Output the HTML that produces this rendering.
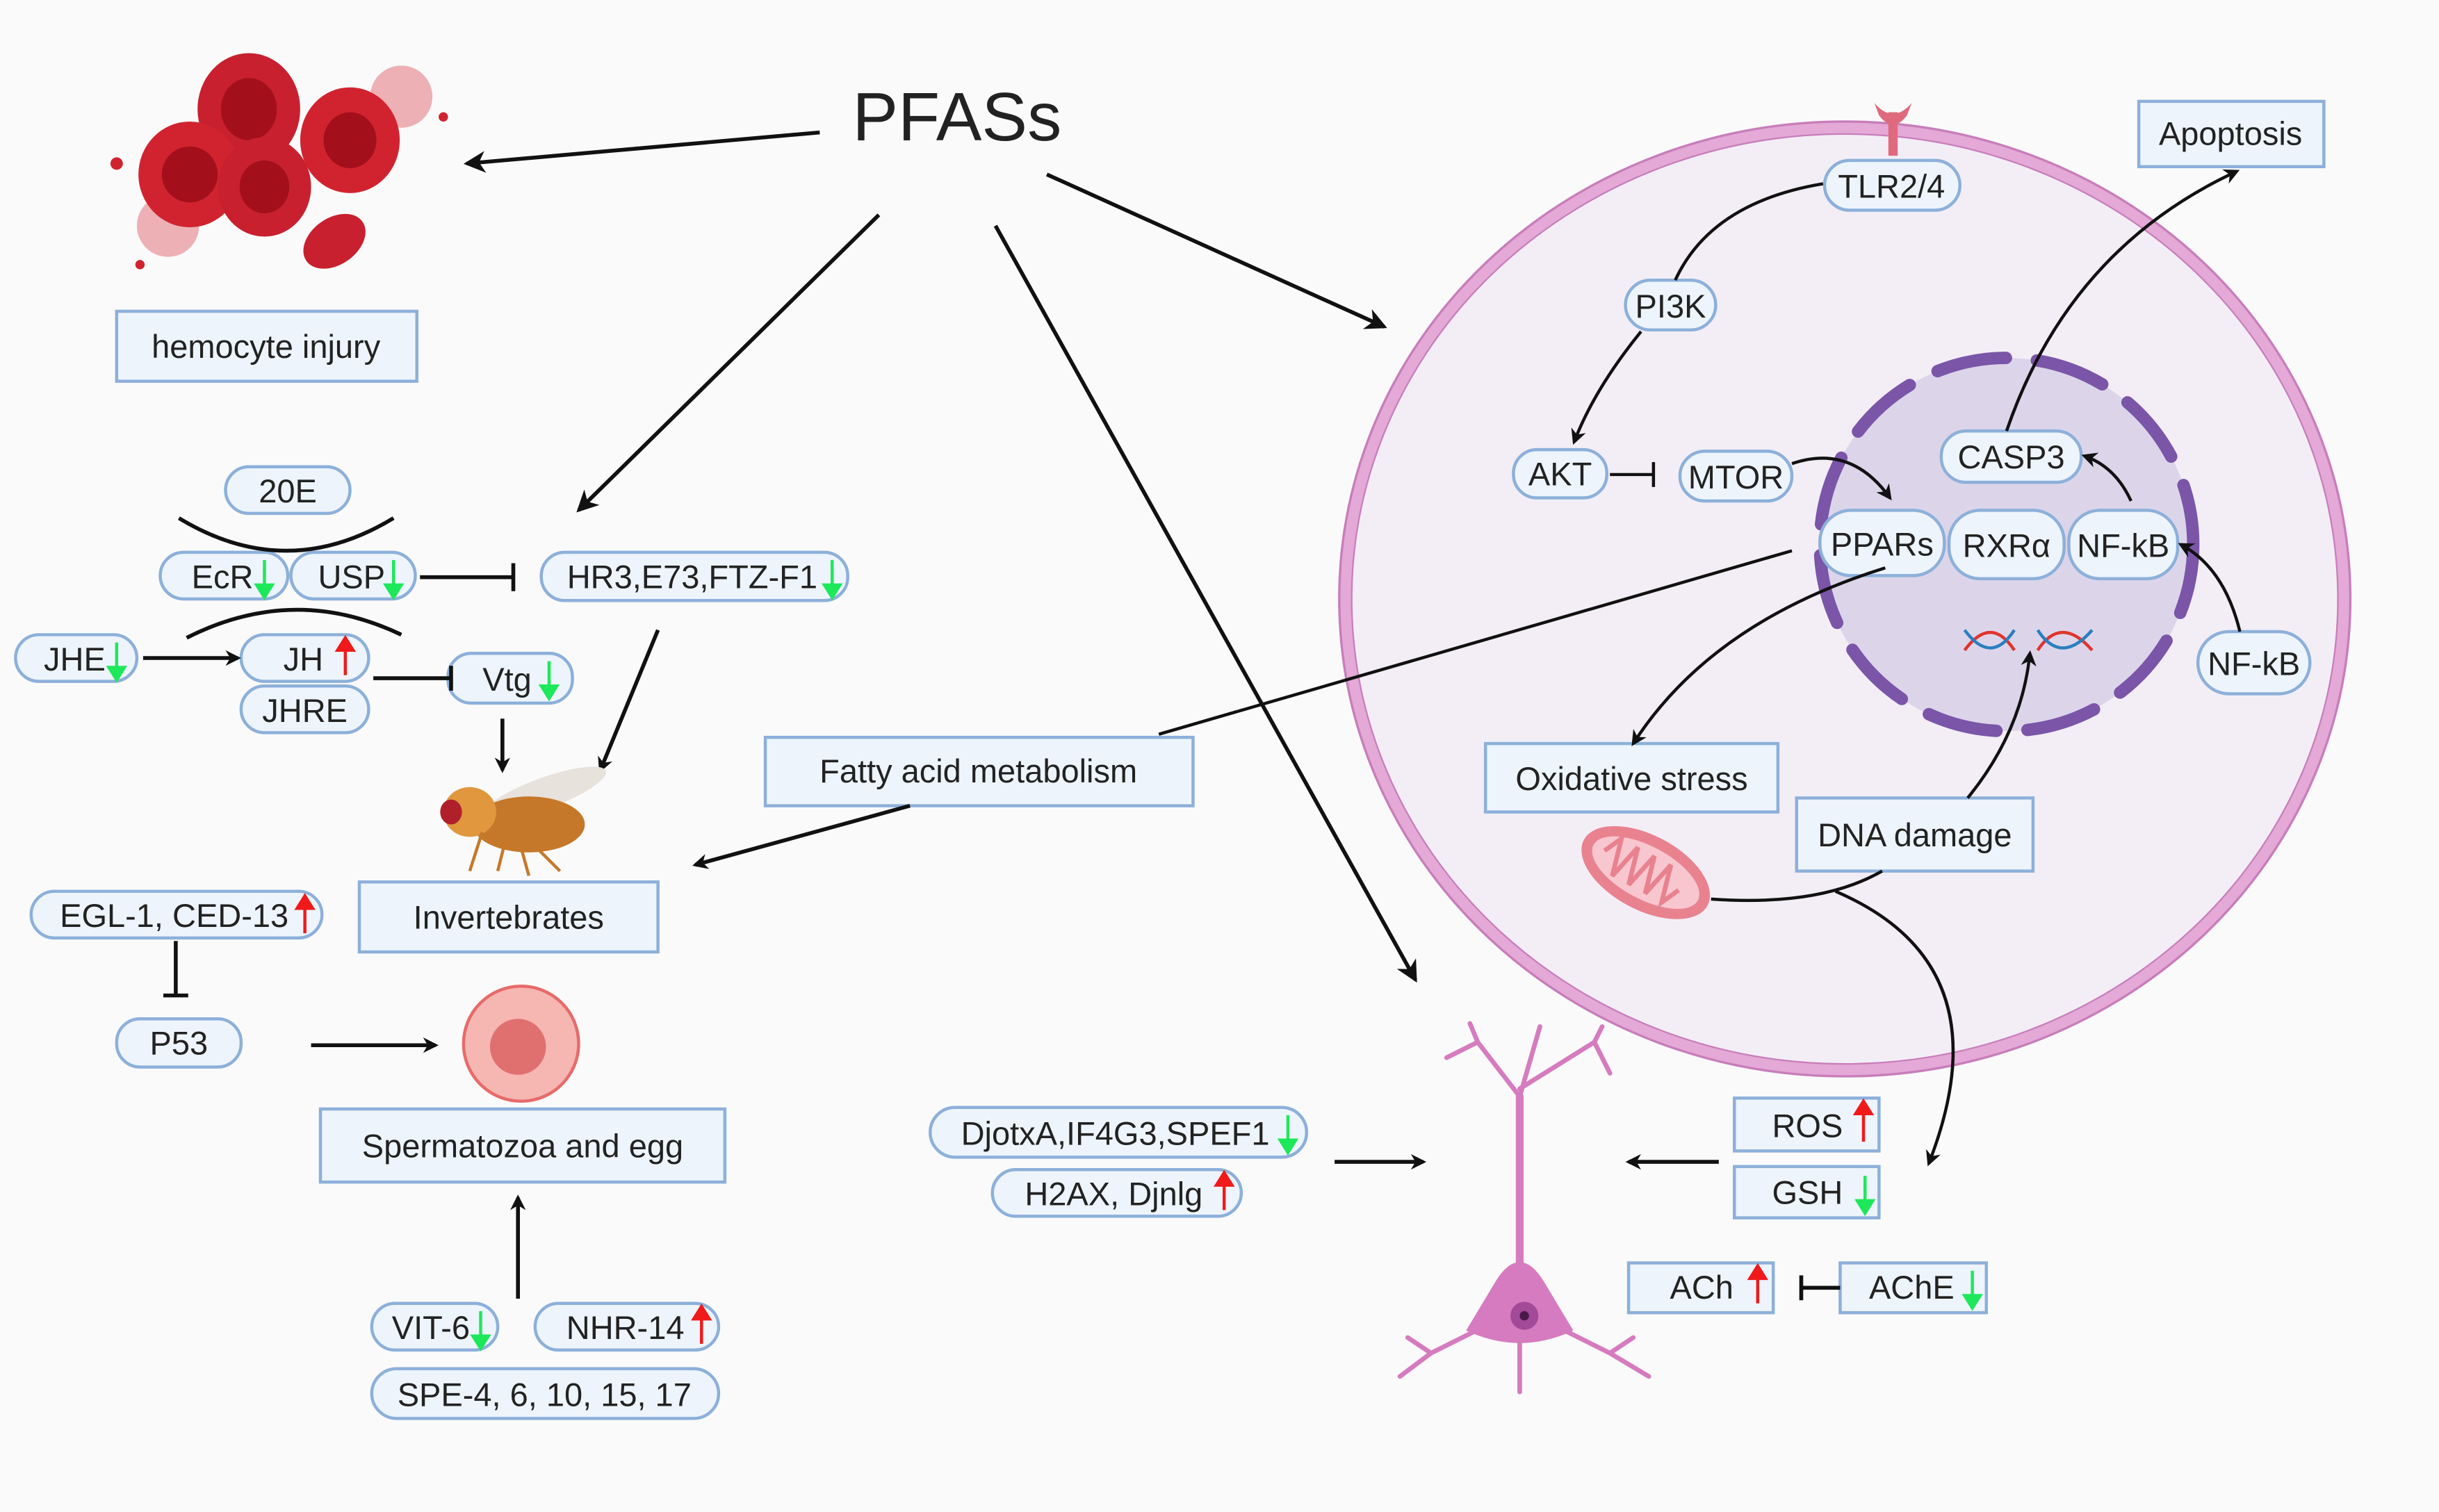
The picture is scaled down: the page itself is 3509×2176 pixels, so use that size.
<!DOCTYPE html>
<html><head><meta charset="utf-8">
<style>
html,body{margin:0;padding:0;background:#fafafa;}
svg{display:block;}
text{font-family:"Liberation Sans",sans-serif;fill:#222;}
</style></head>
<body>
<svg width="3509" height="2176" viewBox="0 0 1568 972" xmlns="http://www.w3.org/2000/svg">
<defs>
<marker id="ah" markerWidth="10" markerHeight="10" refX="8" refY="5" orient="auto" markerUnits="userSpaceOnUse">
<path d="M0,0 L10,5 L0,10 L3,5 z" fill="#111"/>
</marker>
<marker id="ah2" markerWidth="14" markerHeight="14" refX="12" refY="7" orient="auto" markerUnits="userSpaceOnUse">
<path d="M0,0 L14,7 L0,14 L4,7 z" fill="#111"/>
</marker>
</defs>
<rect width="1568" height="972" fill="#fafafa"/>

<!-- Cell -->
<ellipse cx="1186" cy="385" rx="321" ry="303" fill="#f3eef6" stroke="#e4a9d6" stroke-width="8"/>
<ellipse cx="1186" cy="385" rx="325" ry="307" fill="none" stroke="#c87dbb" stroke-width="1.5"/>
<ellipse cx="1186" cy="385" rx="317" ry="299" fill="none" stroke="#c87dbb" stroke-width="1"/>
<!-- nucleus -->
<circle cx="1290" cy="350" r="120" fill="#dcd5ea"/>
<circle cx="1290" cy="350" r="120" fill="none" stroke="#7a55a8" stroke-width="8" stroke-dasharray="45 20" stroke-linecap="round"/>

<!-- Blood cells -->
<g>
<circle cx="108" cy="145" r="20" fill="#e57e86" opacity="0.6"/>
<circle cx="258" cy="62" r="20" fill="#e57e86" opacity="0.6"/>
<ellipse cx="160" cy="70" rx="33" ry="36" fill="#c8202e"/><ellipse cx="160" cy="70" rx="18" ry="20" fill="#a3101c"/>
<ellipse cx="122" cy="112" rx="33" ry="34" fill="#d1232f"/><ellipse cx="122" cy="112" rx="18" ry="18" fill="#a3101c"/>
<ellipse cx="170" cy="120" rx="30" ry="32" fill="#c8202e"/><ellipse cx="170" cy="120" rx="16" ry="17" fill="#a3101c"/>
<ellipse cx="225" cy="90" rx="32" ry="34" fill="#d1232f"/><ellipse cx="225" cy="90" rx="17" ry="18" fill="#a3101c"/>
<ellipse cx="215" cy="155" rx="22" ry="15" transform="rotate(-35 215 155)" fill="#c8202e"/>
<circle cx="75" cy="105" r="4" fill="#d1232f"/><circle cx="90" cy="170" r="3" fill="#d1232f"/><circle cx="285" cy="75" r="3" fill="#d1232f"/>
</g>

<!-- PFASs -->
<text x="548" y="90" font-size="44">PFASs</text>
<line x1="527" y1="85" x2="300" y2="105" stroke="#111" stroke-width="2.5" marker-end="url(#ah2)"/>
<line x1="565" y1="138" x2="372" y2="328" stroke="#111" stroke-width="2.5" marker-end="url(#ah2)"/>
<line x1="640" y1="145" x2="910" y2="630" stroke="#111" stroke-width="2.5" marker-end="url(#ah2)"/>
<line x1="673" y1="112" x2="890" y2="210" stroke="#111" stroke-width="2.5" marker-end="url(#ah2)"/>

<g stroke="#8cb0da" stroke-width="2" fill="#edf4fb">
<!-- rect boxes -->
<rect x="75" y="200" width="193" height="45"/>
<rect x="231" y="567" width="192" height="45"/>
<rect x="492" y="474" width="275" height="44"/>
<rect x="206" y="713" width="260" height="47"/>
<rect x="1375" y="65" width="119" height="42"/>
<rect x="955" y="478" width="188" height="44"/>
<rect x="1155" y="513" width="152" height="47"/>
<rect x="1115" y="706" width="93" height="34"/>
<rect x="1115" y="750" width="93" height="33"/>
<rect x="1047" y="812" width="93" height="32"/>
<rect x="1183" y="812" width="94" height="32"/>
<!-- pills -->
<rect x="145" y="300" width="80" height="30" rx="15"/>
<rect x="103" y="355" width="82" height="30" rx="15"/>
<rect x="187" y="355" width="80" height="30" rx="15"/>
<rect x="348" y="355" width="197" height="31" rx="15"/>
<rect x="10" y="408" width="78" height="30" rx="15"/>
<rect x="155" y="408" width="82" height="30" rx="15"/>
<rect x="155" y="441" width="82" height="30" rx="15"/>
<rect x="288" y="420" width="80" height="32" rx="15"/>
<rect x="20" y="573" width="187" height="30" rx="15"/>
<rect x="75" y="655" width="80" height="31" rx="15"/>
<rect x="239" y="838" width="81" height="30" rx="15"/>
<rect x="344" y="838" width="118" height="30" rx="15"/>
<rect x="239" y="880" width="223" height="32" rx="16"/>
<rect x="598" y="712" width="242" height="32" rx="16"/>
<rect x="638" y="752" width="160" height="30" rx="15"/>
<rect x="1173" y="103" width="87" height="32" rx="16"/>
<rect x="1045" y="180" width="58" height="32" rx="16"/>
<rect x="973" y="289" width="60" height="31" rx="15"/>
<rect x="1080" y="290" width="72" height="32" rx="16"/>
<rect x="1248" y="277" width="90" height="33" rx="16"/>
<rect x="1170" y="328" width="80" height="42" rx="20"/>
<rect x="1253" y="328" width="74" height="44" rx="20"/>
<rect x="1330" y="328" width="70" height="44" rx="20"/>
<rect x="1413" y="406" width="72" height="40" rx="20"/>
</g>

<g font-size="21">
<text x="171" y="230" text-anchor="middle">hemocyte injury</text>
<text x="327" y="597" text-anchor="middle">Invertebrates</text>
<text x="629" y="503" text-anchor="middle">Fatty acid metabolism</text>
<text x="336" y="744" text-anchor="middle">Spermatozoa and egg</text>
<text x="1434" y="93" text-anchor="middle">Apoptosis</text>
<text x="1049" y="508" text-anchor="middle">Oxidative stress</text>
<text x="1231" y="544" text-anchor="middle">DNA damage</text>
<text x="1162" y="731" text-anchor="middle">ROS</text>
<text x="1162" y="774" text-anchor="middle">GSH</text>
<text x="1094" y="835" text-anchor="middle">ACh</text>
<text x="1229" y="835" text-anchor="middle">AChE</text>
<text x="185" y="323" text-anchor="middle">20E</text>
<text x="143" y="378" text-anchor="middle">EcR</text>
<text x="226" y="378" text-anchor="middle">USP</text>
<text x="445" y="378" text-anchor="middle">HR3,E73,FTZ-F1</text>
<text x="48" y="431" text-anchor="middle">JHE</text>
<text x="195" y="431" text-anchor="middle">JH</text>
<text x="196" y="464" text-anchor="middle">JHRE</text>
<text x="326" y="444" text-anchor="middle">Vtg</text>
<text x="112" y="596" text-anchor="middle">EGL-1, CED-13</text>
<text x="115" y="678" text-anchor="middle">P53</text>
<text x="277" y="861" text-anchor="middle">VIT-6</text>
<text x="402" y="861" text-anchor="middle">NHR-14</text>
<text x="350" y="904" text-anchor="middle">SPE-4, 6, 10, 15, 17</text>
<text x="717" y="736" text-anchor="middle">DjotxA,IF4G3,SPEF1</text>
<text x="716" y="775" text-anchor="middle">H2AX, Djnlg</text>
<text x="1216" y="127" text-anchor="middle">TLR2/4</text>
<text x="1074" y="204" text-anchor="middle">PI3K</text>
<text x="1003" y="312" text-anchor="middle">AKT</text>
<text x="1116" y="314" text-anchor="middle">MTOR</text>
<text x="1293" y="301" text-anchor="middle">CASP3</text>
<text x="1210" y="357" text-anchor="middle">PPARs</text>
<text x="1290" y="358" text-anchor="middle">RXRα</text>
<text x="1365" y="358" text-anchor="middle">NF-kB</text>
<text x="1449" y="434" text-anchor="middle">NF-kB</text>
</g>

<!-- up/down arrows -->
<g stroke-width="2">
<g stroke="#1de85a" fill="#1de85a">
<line x1="170" y1="360" x2="170" y2="378"/><path d="M165,376 L175,376 L170,384z"/>
<line x1="253" y1="360" x2="253" y2="378"/><path d="M248,376 L258,376 L253,384z"/>
<line x1="535" y1="360" x2="535" y2="378"/><path d="M530,376 L540,376 L535,384z"/>
<line x1="75" y1="413" x2="75" y2="431"/><path d="M70,429 L80,429 L75,437z"/>
<line x1="353" y1="425" x2="353" y2="443"/><path d="M348,441 L358,441 L353,449z"/>
<line x1="309" y1="843" x2="309" y2="861"/><path d="M304,859 L314,859 L309,867z"/>
<line x1="828" y1="717" x2="828" y2="735"/><path d="M823,733 L833,733 L828,741z"/>
<line x1="1199" y1="756" x2="1199" y2="774"/><path d="M1194,772 L1204,772 L1199,780z"/>
<line x1="1268" y1="817" x2="1268" y2="835"/><path d="M1263,833 L1273,833 L1268,841z"/>
</g>
<g stroke="#f01a1a" fill="#f01a1a">
<line x1="222" y1="416" x2="222" y2="434"/><path d="M217,418 L227,418 L222,410z"/>
<line x1="196" y1="582" x2="196" y2="600"/><path d="M191,584 L201,584 L196,576z"/>
<line x1="451" y1="846" x2="451" y2="864"/><path d="M446,848 L456,848 L451,840z"/>
<line x1="787" y1="760" x2="787" y2="778"/><path d="M782,762 L792,762 L787,754z"/>
<line x1="1198" y1="714" x2="1198" y2="734"/><path d="M1193,716 L1203,716 L1198,708z"/>
<line x1="1130" y1="820" x2="1130" y2="838"/><path d="M1125,822 L1135,822 L1130,814z"/>
</g>
</g>

<!-- insect pathway connectors -->
<g stroke="#111" stroke-width="2.5" fill="none">
<path d="M115,333 Q184,375 253,333"/>
<path d="M120,410 Q189,375 258,408"/>
<line x1="270" y1="371" x2="330" y2="371"/><line x1="330" y1="362" x2="330" y2="380"/>
<line x1="92" y1="423" x2="153" y2="423" marker-end="url(#ah)"/>
<line x1="240" y1="436" x2="290" y2="436"/><line x1="290" y1="428" x2="290" y2="444"/>
<line x1="323" y1="462" x2="323" y2="495" marker-end="url(#ah)"/>
<line x1="423" y1="405" x2="386" y2="495" marker-end="url(#ah)"/>
<line x1="1152" y1="354" x2="745" y2="472" stroke-width="2"/>
<line x1="585" y1="518" x2="447" y2="556" marker-end="url(#ah)"/>
<line x1="113" y1="605" x2="113" y2="640"/><line x1="105" y1="640" x2="121" y2="640"/>
<line x1="200" y1="672" x2="280" y2="672" marker-end="url(#ah)"/>
<line x1="333" y1="835" x2="333" y2="770" marker-end="url(#ah)"/>
<line x1="858" y1="747" x2="915" y2="747" marker-end="url(#ah)"/>
<line x1="1105" y1="747" x2="1047" y2="747" marker-end="url(#ah)"/>
<line x1="1183" y1="828" x2="1158" y2="828"/><line x1="1158" y1="820" x2="1158" y2="836"/>
</g>

<!-- cell connectors -->
<g stroke="#111" stroke-width="2" fill="none">
<path d="M1172,118 Q1100,130 1077,180"/>
<path d="M1055,213 Q1025,250 1012,284" marker-end="url(#ah)"/>
<line x1="1035" y1="305" x2="1063" y2="305"/><line x1="1063" y1="297" x2="1063" y2="313"/>
<path d="M1152,298 Q1190,285 1215,320" marker-end="url(#ah)"/>
<path d="M1290,277 Q1330,160 1438,110" marker-end="url(#ah)"/>
<path d="M1370,322 Q1360,300 1340,293" marker-end="url(#ah)"/>
<path d="M1440,406 Q1430,365 1402,350" marker-end="url(#ah)"/>
<path d="M1212,365 Q1100,400 1050,478" marker-end="url(#ah)"/>
<path d="M1265,513 Q1300,470 1305,420" marker-end="url(#ah)"/>
<path d="M1100,578 Q1170,583 1210,560"/>
<path d="M1180,573 Q1290,620 1240,748" marker-end="url(#ah)"/>
</g>

<!-- receptor -->
<g fill="#e06a7d">
<rect x="1214" y="72" width="6" height="28"/>
<path d="M1205,66 Q1217,80 1229,66 L1226,74 Q1217,86 1208,74z"/>
</g>

<!-- DNA -->
<g stroke-width="2" fill="none">
<path d="M1263,418 Q1280,395 1295,418" stroke="#e0342c"/>
<path d="M1263,405 Q1280,428 1295,405" stroke="#2b7fbf"/>
<path d="M1310,418 Q1325,395 1345,418" stroke="#e0342c"/>
<path d="M1310,405 Q1325,428 1345,405" stroke="#2b7fbf"/>
</g>

<!-- mitochondrion -->
<g transform="rotate(28 1058 561)">
<ellipse cx="1058" cy="561" rx="45" ry="24" fill="#e9828f"/>
<ellipse cx="1058" cy="561" rx="38" ry="17" fill="#f8c6cf"/>
<path d="M1028,561 l6,-12 l6,24 l6,-24 l6,24 l6,-24 l6,24 l6,-24 l6,24 l6,-12" stroke="#e9828f" stroke-width="3" fill="none"/>
</g>

<!-- egg -->
<circle cx="335" cy="671" r="37" fill="#f6b6b2" stroke="#e86a6a" stroke-width="2"/>
<circle cx="333" cy="673" r="18" fill="#e07070"/>

<!-- fly -->
<g>
<ellipse cx="350" cy="510" rx="42" ry="10" fill="#e8e2dc" transform="rotate(-20 350 510)"/>
<ellipse cx="340" cy="530" rx="36" ry="18" fill="#c6782a"/>
<ellipse cx="302" cy="522" rx="17" ry="16" fill="#e0973d"/>
<ellipse cx="290" cy="522" rx="7" ry="8" fill="#b0202a"/>
<path d="M310,535 l-8,25 M325,540 l-5,20 M345,545 l15,15 M335,545 l5,18" stroke="#c6782a" stroke-width="2"/>
</g>

<!-- neuron -->
<g stroke="#d67bbf" fill="none" stroke-linecap="round">
<path d="M977,820 L977,705" stroke-width="5"/>
<path d="M977,705 L950,670 M977,705 L990,660 M977,700 L1025,670 M950,670 L930,680 M950,670 L945,658 M1025,670 L1035,690 M1025,670 L1030,660" stroke-width="3"/>
<path d="M960,850 L920,870 L900,885 M995,850 L1035,870 L1060,885 M977,860 L977,895 M920,870 L905,860 M1035,870 L1050,860" stroke-width="3"/>
<path d="M962,825 Q977,800 992,825 L1010,855 Q977,870 944,855 Z" fill="#d67bbf" stroke-width="2"/>
<circle cx="980" cy="846" r="9" fill="#a24a98" stroke="none"/>
<circle cx="980" cy="846" r="3" fill="#4a1a4a" stroke="none"/>
</g>
</svg>
</body></html>
